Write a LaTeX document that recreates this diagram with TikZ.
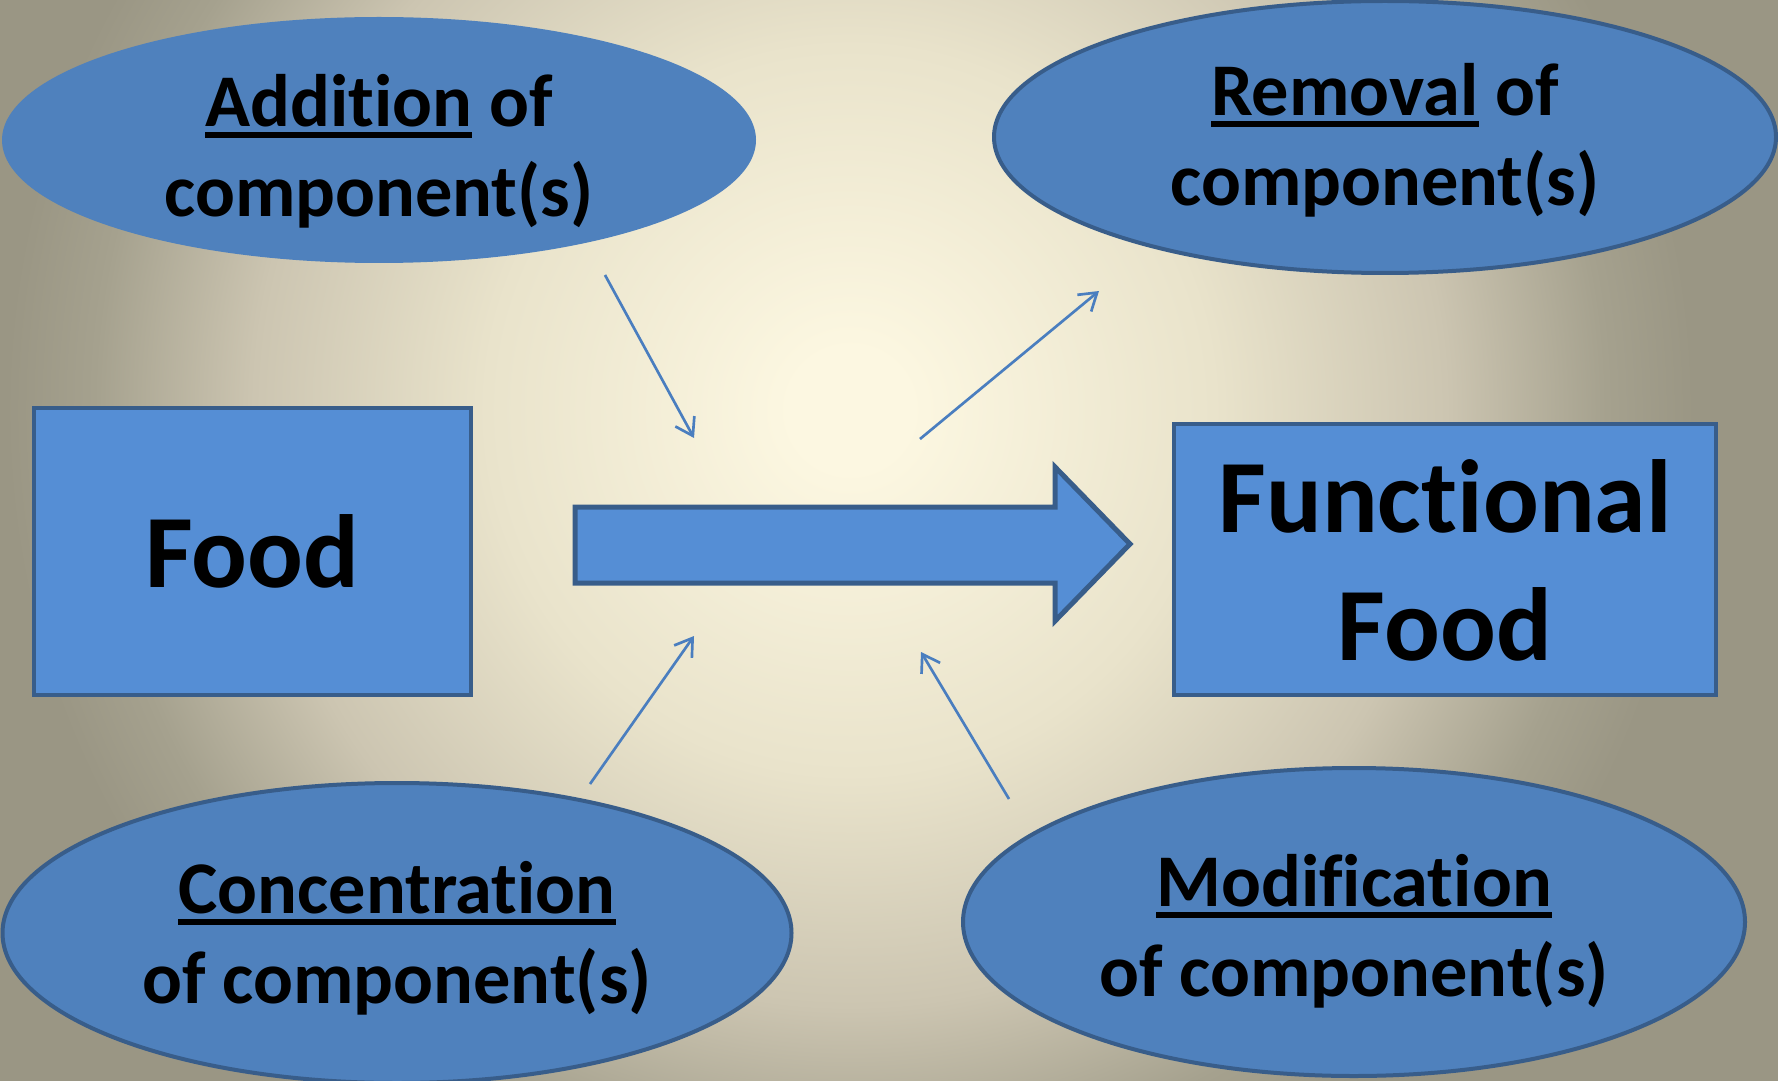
\documentclass[tikz,border=0pt]{standalone}
\usepackage{fontspec}
\setmainfont{Carlito}[Ligatures=NoCommon]
\usepackage{tikz}
\usetikzlibrary{shapes.geometric,arrows.meta}
\definecolor{blobfill}{HTML}{4F81BD}
\definecolor{blobline}{HTML}{385D8A}
\definecolor{boxfill}{HTML}{558ED5}
\definecolor{thinblue}{HTML}{4A7EBF}
\definecolor{glowa}{HTML}{FCF7E1}
\definecolor{glowb}{HTML}{E9E3CB}
\definecolor{glowc}{HTML}{CCC5B1}
\definecolor{glowd}{HTML}{A5A18E}
\definecolor{glowe}{HTML}{9A9684}
\pgfdeclareradialshading{glow}{\pgfpoint{0bp}{0bp}}{color(0bp)=(glowa); color(1.5bp)=(glowa);
  color(9.1bp)=(glowb); color(14.9bp)=(glowc); color(18.9bp)=(glowd); color(21.1bp)=(glowe); color(50bp)=(glowe)}
\newsavebox\undrbox
\newcommand\undr[1]{\sbox\undrbox{#1}\rlap{\rule[-3.4pt]{\wd\undrbox}{1.9pt}}\usebox\undrbox}
\newcommand\topstrut{\rule{0pt}{23.4pt}}
\newcommand\botstrut{\rule[-6.7pt]{0pt}{6.7pt}}

\begin{document}
\begin{tikzpicture}[x=0.3pt,y=-0.3pt,
  blob/.style={ellipse,fill=blobfill,draw=blobline,line width=1.2pt,inner sep=0pt},
  lbl/.style={align=center,inner sep=0pt,font=\fontsize{22.3}{27}\selectfont\bfseries},
  foodbox/.style={rectangle,fill=boxfill,draw=blobline,line width=1.4pt,inner sep=0pt,
    align=center,font=\fontsize{31.2}{38.4}\selectfont\bfseries},
  thin arrow/.style={thinblue,line width=0.8pt,-{Straight Barb[length=5pt,width=6.5pt]}}]
\useasboundingbox (0,0) rectangle (1778,1081);
\clip (0,0) rectangle (1778,1081);
% --- background glow ---
\shade[shading=glow] (-150,-590) rectangle (1850,1410);
% --- the four ways ---
\node[blob,draw=none,minimum width=226.2pt,minimum height=73.8pt] (add) at (379,140) {};
\node[blob,minimum width=234.6pt,minimum height=81.6pt] (rem) at (1385,137) {};
\node[blob,minimum width=236.7pt,minimum height=90pt] (conc) at (397,933) {};
\node[blob,minimum width=234.6pt,minimum height=92.4pt] (mod) at (1354,922) {};
\node[lbl] (addlbl) at ([yshift=-1.2pt]add.center) {\topstrut\undr{Addition} of\\component(s)\botstrut};
\node[lbl] (remlbl) at ([yshift=1.2pt]rem.center) {\topstrut\undr{Removal} of\\component(s)\botstrut};
\node[lbl] (conclbl) at ([yshift=0.6pt]conc.center) {\topstrut\undr{Concentration}\\of component(s)\botstrut};
\node[lbl] (modlbl) at ([yshift=-0.6pt]mod.center) {\topstrut\undr{Modification}\\of component(s)\botstrut};
% --- food and functional food ---
\node[foodbox,minimum width=131.1pt,minimum height=86.1pt] (food) at (252.5,551.5)
  {\rule{0pt}{28pt}Food\rule[-6.7pt]{0pt}{6.7pt}};
\node[foodbox,minimum width=162.6pt,minimum height=81.3pt] (func) at (1445,559.5)
  {\rule{0pt}{29pt}Functional\\Food\rule[-7.1pt]{0pt}{7.1pt}};
% --- the block arrow ---
\draw[fill=boxfill,draw=blobline,line width=1.5pt,line join=miter]
  (575,507) -- (1055,507) -- (1055,467) -- (1130,544) -- (1055,621) -- (1055,583) -- (575,583) -- cycle;
% --- thin arrows ---
\coordinate (addfrom) at (605,275);   \coordinate (addto) at (694,438);
\coordinate (remfrom) at (920,439);   \coordinate (remto) at (1099,291);
\coordinate (concfrom) at (590,784);  \coordinate (concto) at (694,636);
\coordinate (modfrom) at (1009,799);  \coordinate (modto) at (921,652);
\foreach \a/\b in {addfrom/addto,remfrom/remto,concfrom/concto,modfrom/modto}
  \draw[thin arrow] (\a) -- (\b);
\end{tikzpicture}
\end{document}
